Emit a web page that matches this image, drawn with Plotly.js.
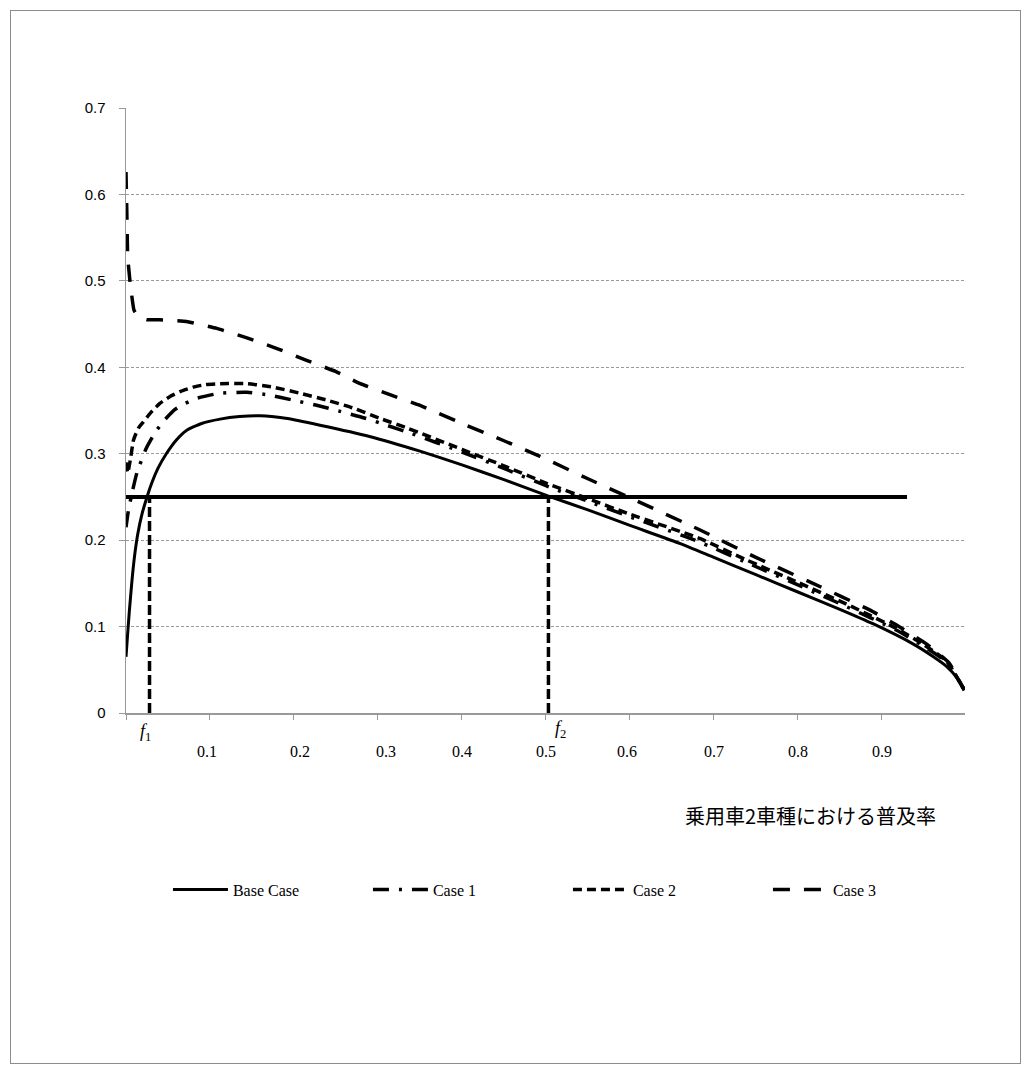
<!DOCTYPE html>
<html>
<head>
<meta charset="utf-8">
<script src="https://cdn.plot.ly/plotly-3.0.1.min.js"></script>
<style>
html,body{margin:0;padding:0;background:#fff;}
#wrap{position:relative;width:1023px;height:1073px;}
#chart{position:absolute;left:0;top:0;width:1023px;height:1073px;}
#frame{position:absolute;left:10px;top:10px;width:1009px;height:1052px;border:1px solid #8c8c8c;pointer-events:none;}
</style>
</head>
<body>
<div id="wrap"><div id="chart"></div><div id="frame"></div></div>
<script>
// ---- data ----
const baseX = [0, 0.002, 0.004, 0.007, 0.010, 0.014, 0.019, 0.025, 0.031, 0.038, 0.048, 0.060, 0.072, 0.090, 0.112, 0.135, 0.160, 0.190, 0.231, 0.29, 0.35, 0.40, 0.45, 0.503, 0.55, 0.60, 0.66, 0.70, 0.75, 0.80, 0.85, 0.89, 0.937, 0.96, 0.977, 0.99, 0.998];
const baseY = [0.065, 0.092, 0.118, 0.152, 0.180, 0.207, 0.230, 0.250, 0.267, 0.283, 0.300, 0.316, 0.327, 0.335, 0.340, 0.343, 0.344, 0.341, 0.333, 0.320, 0.303, 0.287, 0.270, 0.251, 0.235, 0.217, 0.196, 0.180, 0.160, 0.140, 0.120, 0.103, 0.080, 0.066, 0.054, 0.040, 0.026];

const case1X = [0, 0.003, 0.008, 0.013, 0.024, 0.035, 0.045, 0.058, 0.07, 0.084, 0.112, 0.144, 0.17, 0.199, 0.227, 0.255, 0.285, 0.31, 0.338, 0.40, 0.45, 0.50, 0.55, 0.60, 0.68, 0.739, 0.798, 0.858, 0.917, 0.95, 0.977, 0.998];
const case1Y = [0.215, 0.235, 0.258, 0.278, 0.306, 0.325, 0.338, 0.351, 0.358, 0.364, 0.370, 0.371, 0.368, 0.362, 0.356, 0.349, 0.341, 0.333, 0.324, 0.302, 0.283, 0.263, 0.245, 0.227, 0.199, 0.174, 0.149, 0.123, 0.096, 0.077, 0.059, 0.027];

const case2X = [0, 0.002, 0.005, 0.009, 0.015, 0.02, 0.029, 0.04, 0.052, 0.065, 0.08, 0.095, 0.112, 0.144, 0.175, 0.207, 0.239, 0.27, 0.302, 0.334, 0.40, 0.45, 0.50, 0.55, 0.60, 0.683, 0.739, 0.798, 0.858, 0.917, 0.95, 0.977, 0.998];
const case2Y = [0.29, 0.278, 0.292, 0.316, 0.33, 0.336, 0.347, 0.358, 0.366, 0.372, 0.377, 0.380, 0.381, 0.381, 0.377, 0.370, 0.362, 0.353, 0.341, 0.330, 0.305, 0.286, 0.266, 0.248, 0.230, 0.202, 0.177, 0.152, 0.126, 0.098, 0.079, 0.060, 0.027];

const case3X = [0, 0.001, 0.002, 0.005, 0.0095, 0.015, 0.025, 0.04, 0.072, 0.108, 0.144, 0.179, 0.215, 0.25, 0.279, 0.315, 0.35, 0.40, 0.45, 0.493, 0.55, 0.60, 0.683, 0.75, 0.818, 0.886, 0.917, 0.953, 0.98, 0.998];
const case3Y = [0.626, 0.578, 0.528, 0.497, 0.466, 0.458, 0.455, 0.455, 0.453, 0.445, 0.434, 0.422, 0.408, 0.395, 0.381, 0.368, 0.356, 0.335, 0.315, 0.297, 0.271, 0.249, 0.212, 0.180, 0.150, 0.119, 0.102, 0.080, 0.058, 0.027];

const seriesNames = ["Base Case", "Case 1", "Case 2", "Case 3"];
const threshold = 0.25;       // horizontal reference level
const thresholdEnd = 0.93;    // where the horizontal line stops
const f1 = 0.028;             // lower crossing
const f2 = 0.503;             // upper crossing
const xTickLabels = ["0.1","0.2","0.3","0.4","0.5","0.6","0.7","0.8","0.9"];
const xTickLabelPos = [0.097, 0.207, 0.31, 0.40, 0.50, 0.597, 0.70, 0.80, 0.90];
const xTitle = "乗用車2車種における普及率";

// ---- figure ----
const serif = "Liberation Serif, Times New Roman, serif";
const sm = 0.5;
const traces = [
  {x: baseX, y: baseY, name: seriesNames[0], mode: "lines", line: {color: "#000", width: 3, shape: "spline", smoothing: sm}},
  {x: case1X, y: case1Y, name: seriesNames[1], mode: "lines", line: {color: "#000", width: 3.5, dash: "16px,10px,3px,10px", shape: "spline", smoothing: sm}},
  {x: case2X, y: case2Y, name: seriesNames[2], mode: "lines", line: {color: "#000", width: 3.5, dash: "9px,5px", shape: "spline", smoothing: sm}},
  {x: case3X, y: case3Y, name: seriesNames[3], mode: "lines", line: {color: "#000", width: 3.5, dash: "17px,14px", shape: "spline", smoothing: 0.3}},
  {x: [0, thresholdEnd], y: [threshold, threshold], mode: "lines", showlegend: false, line: {color: "#000", width: 4}},
  {x: [f1, f1], y: [0, threshold], mode: "lines", showlegend: false, line: {color: "#000", width: 3.5, dash: "10px,4px"}},
  {x: [f2, f2], y: [0, threshold], mode: "lines", showlegend: false, line: {color: "#000", width: 3.5, dash: "10px,4px"}}
];

const annotations = xTickLabels.map((t, i) => ({
  text: t, x: xTickLabelPos[i], xref: "x", y: -0.064, yref: "paper",
  xanchor: "center", yanchor: "middle", showarrow: false,
  font: {family: serif, size: 16, color: "#000"}
}));
annotations.push({text: "<i>f</i><sub>1</sub>", x: f1 - 0.005, xref: "x", y: -0.033, yref: "paper",
  xanchor: "center", yanchor: "middle", showarrow: false, font: {family: serif, size: 18, color: "#000"}});
annotations.push({text: "<i>f</i><sub>2</sub>", x: f2 + 0.014, xref: "x", y: -0.028, yref: "paper",
  xanchor: "center", yanchor: "middle", showarrow: false, font: {family: serif, size: 18, color: "#000"}});
annotations.push({text: xTitle, x: 0.968, xref: "paper", y: -0.170, yref: "paper",
  xanchor: "right", yanchor: "middle", showarrow: false,
  font: {family: "Noto Sans CJK JP, sans-serif", size: 20, color: "#000"}});

const layout = {
  width: 1023, height: 1073,
  margin: {l: 126, r: 58, t: 108, b: 360},
  paper_bgcolor: "#fff", plot_bgcolor: "#fff",
  showlegend: true,
  legend: {orientation: "h", x: 0.05, xanchor: "left", y: -0.292, yanchor: "middle",
    itemwidth: 55, entrywidth: 130, entrywidthmode: "pixels", traceorder: "normal",
    font: {family: serif, size: 16, color: "#000"}},
  xaxis: {range: [0, 0.999], tickvals: [0,0.1,0.2,0.3,0.4,0.5,0.6,0.7,0.8,0.9], showticklabels: false,
    ticks: "outside", ticklen: 5, tickcolor: "#999", showline: true, linecolor: "#999", linewidth: 1.5,
    showgrid: false, zeroline: false, fixedrange: true},
  yaxis: {range: [0, 0.7], dtick: 0.1, tick0: 0, ticks: "outside", ticklen: 6, tickcolor: "#999",
    ticklabelstandoff: 10,
    showline: true, linecolor: "#999", linewidth: 1.5, showgrid: true, gridcolor: "#999", gridwidth: 1,
    griddash: "3px,2px", zeroline: false,
    tickfont: {family: "Liberation Sans, Arial, sans-serif", size: 15, color: "#000"}},
  annotations: annotations
};

Plotly.newPlot("chart", traces, layout, {staticPlot: true, displayModeBar: false});
</script>
</body>
</html>
